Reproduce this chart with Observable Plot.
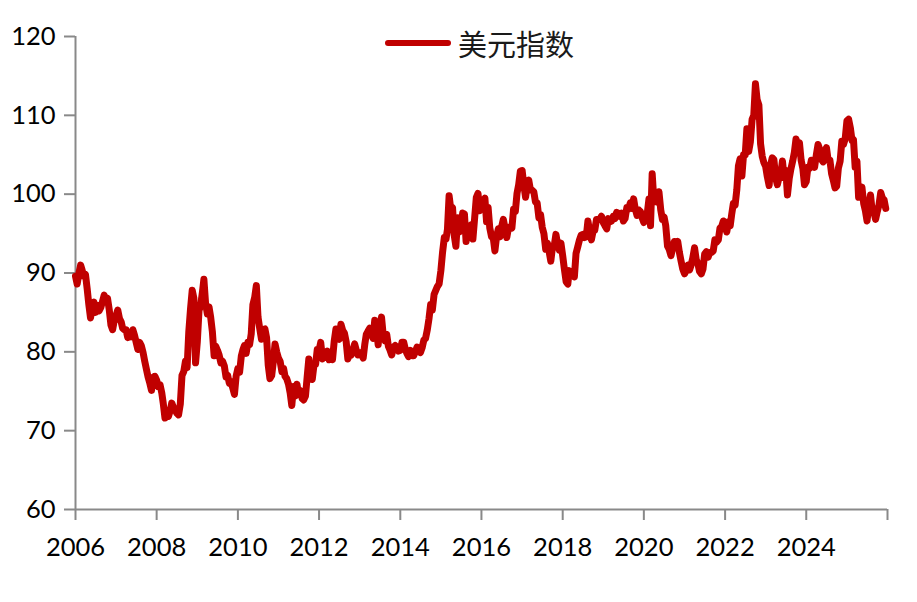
<!DOCTYPE html>
<html>
<head>
<meta charset="utf-8">
<script src="https://cdn.jsdelivr.net/npm/d3@7"></script>
<script src="https://cdn.jsdelivr.net/npm/@observablehq/plot@0.6"></script>
<style>
  html, body { margin: 0; padding: 0; background: #fff; }
  #wrap { position: relative; width: 917px; height: 602px; }
  #legend { position: absolute; left: 385px; top: 22px; display: flex; align-items: center;
            font-family: "Noto Sans CJK SC", sans-serif; font-size: 29px; color: #1a1a1a; }
  #legend .sw { width: 66px; height: 6px; border-radius: 3px; background: #C00000; margin-right: 7px; }
</style>
</head>
<body>
<div id="wrap"><div id="legend"><span class="sw"></span><span id="legtext"></span></div></div>
<script>
// Series label
const seriesName = "美元指数";
// Years covered; each year holds 24 semi-monthly readings (1st and 16th of each month)
const years = [2006, 2007, 2008, 2009, 2010, 2011, 2012, 2013, 2014, 2015,
               2016, 2017, 2018, 2019, 2020, 2021, 2022, 2023, 2024, 2025];
const v2006 = [89.6, 88.6, 90.0, 91.0, 90.4, 89.6, 89.8, 88.0, 86.0, 84.3, 85.6, 86.3, 85.0, 85.9, 85.2, 85.6, 86.4, 87.2, 86.4, 86.8, 85.3, 83.4, 82.8, 84.0];
const v2007 = [84.6, 85.3, 84.2, 83.8, 83.0, 82.8, 82.8, 81.8, 82.2, 81.9, 82.8, 82.1, 81.2, 80.3, 81.2, 80.8, 79.9, 78.8, 77.8, 76.8, 76.0, 75.1, 76.8, 76.9];
const v2008 = [76.4, 75.6, 75.8, 74.8, 73.4, 71.6, 72.3, 71.8, 72.5, 73.5, 72.9, 72.6, 72.2, 72.0, 73.4, 77.0, 77.5, 78.8, 78.0, 82.5, 85.5, 87.8, 86.8, 78.6];
const v2009 = [81.3, 85.2, 86.0, 87.6, 89.2, 86.2, 84.8, 85.7, 84.4, 82.6, 79.5, 80.7, 80.2, 79.6, 78.6, 78.8, 78.2, 76.8, 77.0, 76.0, 76.2, 75.4, 74.6, 76.9];
const v2010 = [77.9, 77.4, 79.5, 80.3, 80.8, 79.8, 81.2, 80.9, 82.3, 86.0, 86.9, 88.4, 84.4, 83.0, 81.6, 82.8, 82.9, 81.8, 78.3, 76.6, 77.0, 78.8, 81.0, 80.0];
const v2011 = [79.2, 78.8, 77.5, 77.9, 76.9, 76.6, 75.9, 74.8, 73.2, 75.6, 74.4, 75.9, 74.6, 75.1, 74.1, 73.9, 74.4, 76.8, 79.1, 77.1, 76.5, 78.3, 78.4, 80.3];
const v2012 = [80.2, 81.2, 79.1, 79.5, 79.3, 80.1, 79.0, 79.7, 79.0, 81.3, 82.9, 81.9, 81.6, 83.5, 82.7, 82.4, 81.3, 79.1, 79.8, 79.6, 80.3, 81.0, 80.2, 79.6];
const v2013 = [79.9, 79.7, 79.2, 81.0, 82.2, 82.6, 83.0, 82.3, 81.7, 84.0, 82.8, 80.9, 83.4, 84.4, 82.0, 81.4, 82.2, 80.7, 80.2, 79.6, 80.6, 80.8, 80.6, 80.1];
const v2014 = [80.2, 81.2, 81.2, 80.3, 79.8, 79.4, 80.2, 79.5, 79.5, 80.0, 80.6, 80.5, 79.9, 80.5, 81.5, 81.7, 82.8, 84.2, 86.0, 85.3, 87.3, 87.8, 88.3, 88.6];
const v2015 = [90.3, 92.6, 94.5, 94.3, 95.5, 99.8, 98.0, 98.3, 94.8, 93.4, 97.0, 95.2, 95.8, 97.6, 97.5, 94.0, 95.6, 95.3, 96.1, 94.3, 97.0, 99.6, 100.1, 97.9];
const v2016 = [98.6, 99.1, 99.5, 96.5, 98.3, 95.7, 94.6, 94.5, 92.8, 94.6, 95.6, 94.6, 95.9, 96.8, 95.6, 94.5, 95.8, 95.8, 95.7, 98.1, 97.8, 100.1, 101.2, 102.9];
const v2017 = [103.0, 101.2, 99.6, 101.2, 101.8, 100.6, 100.5, 100.3, 99.0, 98.9, 97.0, 97.4, 95.8, 95.0, 93.0, 93.8, 92.7, 91.5, 93.3, 93.4, 94.9, 93.7, 92.9, 93.8];
const v2018 = [92.2, 90.5, 88.9, 88.6, 90.3, 89.7, 90.1, 89.5, 92.5, 93.3, 94.2, 94.8, 94.9, 94.5, 94.6, 96.6, 95.2, 94.2, 95.3, 95.4, 96.8, 96.8, 96.8, 97.2];
const v2019 = [96.4, 96.0, 95.6, 96.9, 96.5, 96.6, 97.2, 96.9, 97.7, 97.6, 97.2, 97.6, 96.6, 96.9, 98.3, 98.1, 98.9, 98.2, 99.4, 98.1, 97.3, 98.0, 97.8, 97.0];
const v2020 = [96.4, 97.3, 97.6, 99.4, 96.0, 102.6, 99.0, 99.6, 99.0, 100.3, 98.0, 96.8, 97.1, 96.0, 93.4, 93.0, 92.2, 93.1, 94.0, 93.6, 94.0, 92.6, 91.5, 90.5];
const v2021 = [89.9, 90.3, 91.0, 90.4, 91.0, 91.9, 93.2, 91.7, 91.2, 90.2, 89.9, 90.5, 92.4, 92.7, 92.0, 92.6, 92.6, 92.8, 94.2, 93.9, 94.2, 95.7, 95.9, 96.6];
const v2022 = [96.0, 95.2, 96.5, 96.0, 97.4, 98.8, 98.6, 100.5, 103.6, 104.5, 102.3, 105.0, 105.0, 108.3, 105.4, 106.6, 109.5, 110.0, 114.0, 112.0, 111.3, 106.4, 104.8, 104.0];
const v2023 = [103.5, 102.2, 101.1, 103.8, 104.6, 104.4, 102.1, 101.2, 102.1, 102.5, 104.2, 102.1, 103.0, 99.9, 102.0, 103.2, 104.2, 105.3, 107.0, 106.3, 106.5, 104.3, 103.3, 101.2];
const v2024 = [101.6, 103.4, 103.3, 104.3, 103.9, 103.4, 105.0, 106.3, 105.7, 104.4, 104.1, 105.4, 105.9, 104.3, 104.3, 102.6, 101.7, 100.8, 101.0, 103.3, 104.2, 106.7, 106.3, 107.0];
const v2025 = [109.3, 109.5, 108.4, 106.8, 106.9, 103.4, 104.2, 99.6, 100.0, 100.9, 98.8, 97.9, 96.6, 98.5, 99.9, 97.9, 97.7, 96.8, 97.8, 98.6, 100.2, 99.5, 99.3, 98.2];
const yearValues = [v2006, v2007, v2008, v2009, v2010, v2011, v2012, v2013, v2014, v2015,
                    v2016, v2017, v2018, v2019, v2020, v2021, v2022, v2023, v2024, v2025];
// Axis ticks
const xTickYears = [2006, 2008, 2010, 2012, 2014, 2016, 2018, 2020, 2022, 2024, 2026];
const xTickLabels = ["2006", "2008", "2010", "2012", "2014", "2016", "2018", "2020", "2022", "2024", ""];
const yTicks = [60, 70, 80, 90, 100, 110, 120];

// Build table
const rows = [];
years.forEach((yr, k) => {
  yearValues[k].forEach((v, i) => {
    rows.push({date: new Date(Date.UTC(yr, Math.floor(i / 2), i % 2 ? 16 : 1)), value: v});
  });
});
const xTicks = xTickYears.map(y => new Date(Date.UTC(y, 0, 1)));
const xLabel = new Map(xTicks.map((d, i) => [+d, xTickLabels[i]]));
const xDomain = [xTicks[0], xTicks[xTicks.length - 1]];
const yDomain = [yTicks[0], yTicks[yTicks.length - 1]];

const axisColor = "#898989";
const chart = Plot.plot({
  width: 917,
  height: 602,
  marginLeft: 75,
  marginRight: 30,
  marginTop: 36,
  marginBottom: 93,
  style: {fontFamily: "Lato, sans-serif", fontSize: "25.5px", color: "#000", background: "#fff"},
  x: {type: "utc", domain: xDomain},
  y: {domain: yDomain},
  marks: [
    Plot.axisY({ticks: yTicks, tickSize: 11, tickPadding: 9, stroke: axisColor, strokeWidth: 2, fill: "#000", label: null}),
    Plot.axisX({ticks: xTicks, tickSize: 11, tickPadding: 17, stroke: axisColor, strokeWidth: 2, fill: "#000", label: null,
                tickFormat: d => xLabel.get(+d)}),
    Plot.ruleX([xDomain[0]], {stroke: axisColor, strokeWidth: 2}),
    Plot.ruleY([yDomain[0]], {stroke: axisColor, strokeWidth: 2}),
    Plot.lineY(rows, {x: "date", y: "value", stroke: "#C00000", strokeWidth: 7,
                      strokeLinejoin: "round", strokeLinecap: "round"})
  ]
});
document.getElementById("wrap").appendChild(chart);
document.getElementById("legtext").textContent = seriesName;
</script>
</body>
</html>
